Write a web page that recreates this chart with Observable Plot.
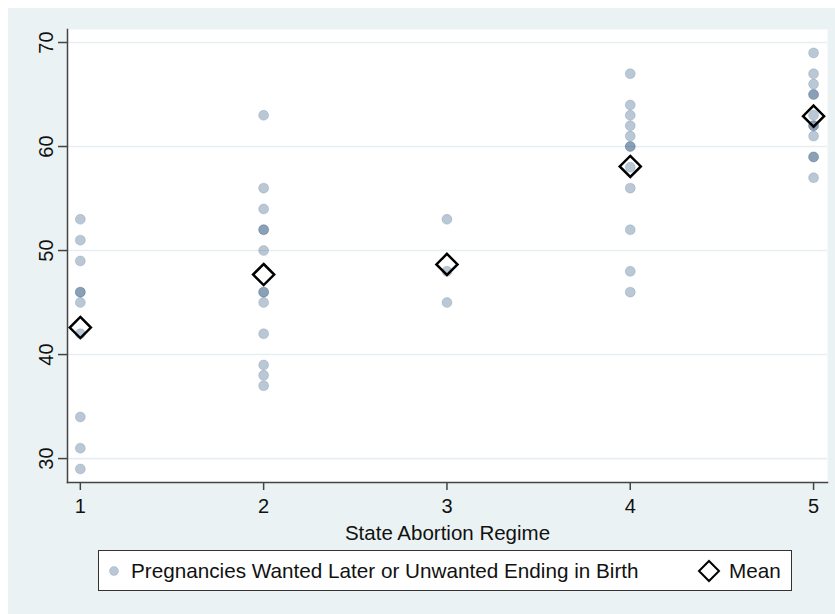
<!DOCTYPE html>
<html>
<head>
<meta charset="utf-8">
<script src="https://cdn.jsdelivr.net/npm/d3@7"></script>
<script src="https://cdn.jsdelivr.net/npm/@observablehq/plot@0.6"></script>
<style>
  html, body { margin: 0; padding: 0; background: #ffffff; }
  #wrap { position: relative; width: 835px; height: 614px; overflow: hidden; font-family: "Liberation Sans", Arial, sans-serif; }
  #bg { position: absolute; left: 8px; top: 8px; width: 827px; height: 606px; background: #eaf2f3; }
  #chart { position: absolute; left: 0; top: 0; }
  #legend { position: absolute; left: 98px; top: 550px; width: 694px; height: 41px; background: #ffffff; border: 1px solid #333; box-sizing: border-box; color: #111; font-size: 20.7px; }
  .item { position: absolute; top: 0; height: 39px; display: flex; align-items: center; white-space: nowrap; }
</style>
</head>
<body>
<div id="wrap">
  <div id="bg"></div>
  <div id="chart"></div>
  <div id="legend">
    <div class="item" style="left:8px">
      <svg width="14" height="14" style="margin-right:10px"><circle cx="7" cy="7" r="4.5" fill="#1a476f" fill-opacity="0.3" stroke="#1a476f" stroke-opacity="0.15"></circle></svg>
      <span>Pregnancies Wanted Later or Unwanted Ending in Birth</span>
    </div>
    <div class="item" style="left:598px">
      <svg width="24" height="24" style="margin-right:8px"><path d="M12,2L22,12L12,22L2,12Z" fill="none" stroke="#000" stroke-width="2"></path></svg>
      <span>Mean</span>
    </div>
  </div>
</div>
<script>
// Values
const regimes = [1, 2, 3, 4, 5];
const regime1 = [53, 51, 49, 46, 46, 45, 42, 34, 31, 29];
const regime2 = [63, 56, 54, 52, 52, 50, 46, 46, 45, 42, 39, 38, 37];
const regime3 = [53, 48, 45];
const regime4 = [67, 64, 63, 62, 61, 60, 60, 58, 56, 52, 48, 46];
const regime5 = [69, 67, 66, 65, 65, 63, 62, 62, 61, 59, 59, 57];
const yTicks = [30, 40, 50, 60, 70];
const xTicks = [1, 2, 3, 4, 5];
const xLabel = "State Abortion Regime";

const groups = [regime1, regime2, regime3, regime4, regime5];
const data = regimes.flatMap((r, i) => groups[i].map(v => ({regime: r, value: v})));

const navy = "#1a476f";
const font = "Liberation Sans, Arial, sans-serif";

const chart = Plot.plot({
  width: 835,
  height: 545,
  marginTop: 29,
  marginBottom: 63,
  marginLeft: 67,
  marginRight: 8,
  style: {background: "transparent", fontFamily: font, fontSize: "20px", color: "#111"},
  x: {domain: [0.93, 5.076], ticks: xTicks},
  y: {domain: [27.7, 71.25], ticks: yTicks},
  marks: [
    Plot.frame({fill: "white", stroke: "none"}),
    Plot.gridY(yTicks, {stroke: "#e6eef1", strokeOpacity: 1, strokeWidth: 1.6}),
    Plot.frame({anchor: "left", stroke: "#444", strokeWidth: 1.5}),
    Plot.frame({anchor: "bottom", stroke: "#444", strokeWidth: 1.5}),
    Plot.axisY(yTicks, {tickSize: 9, tickRotate: -90, tickPadding: 6, stroke: "#444", strokeWidth: 1.5, label: null, fontSize: 20}),
    Plot.axisX(xTicks, {tickSize: 8, tickPadding: 8, stroke: "#444", strokeWidth: 1.5, label: null, fontSize: 20, tickFormat: d => String(d)}),
    Plot.axisX({label: xLabel, labelAnchor: "center", labelArrow: "none", labelOffset: 57, fontSize: 20.5, ticks: [], tickSize: 0}),
    Plot.dot(data, {x: "regime", y: "value", r: 5, fill: navy, fillOpacity: 0.3, stroke: navy, strokeOpacity: 0.15, strokeWidth: 1}),
    Plot.dot(data, Plot.groupX({y: "mean"}, {x: "regime", y: "value", symbol: "diamond2", r: 9.5, fill: "none", stroke: "black", strokeWidth: 2.5}))
  ]
});
document.getElementById("chart").appendChild(chart);
</script>
</body>
</html>
